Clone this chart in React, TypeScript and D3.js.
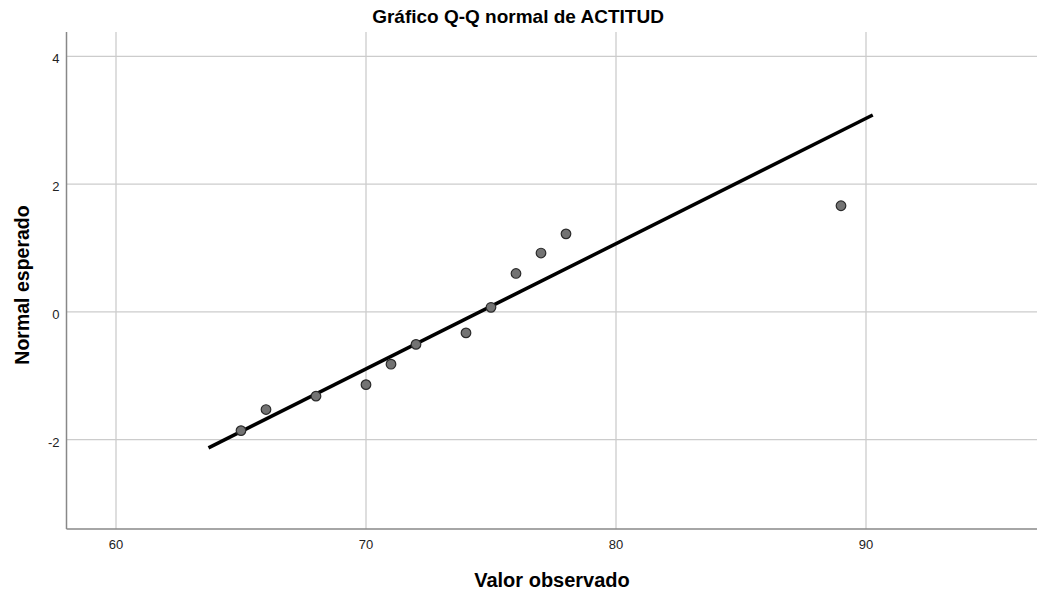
import React, { useEffect, useRef } from "react";
import * as d3 from "d3";

// observed values and expected normal quantiles
const observed = [65, 66, 68, 70, 71, 72, 74, 75, 76, 77, 78, 89];
const expected = [-1.86, -1.53, -1.32, -1.14, -0.82, -0.51, -0.33, 0.07, 0.6, 0.92, 1.22, 1.66];

// reference line endpoints
const lineX = [63.7, 90.27];
const lineY = [-2.13, 3.08];

const xTicks = [60, 70, 80, 90];
const yTicks = [-2, 0, 2, 4];

const W = 1037;
const H = 591;

export default function App() {
  const svgRef = useRef<SVGSVGElement>(null);

  useEffect(() => {
    if (!svgRef.current) return;
    const svg = d3.select(svgRef.current);
    svg.selectAll("*").remove();

    const margin = { top: 32, right: 0, bottom: 62, left: 66.5 };
    const x = d3.scaleLinear().domain([58.02, 96.84]).range([margin.left, W - margin.right]);
    const y = d3.scaleLinear().domain([-3.4, 4.38]).range([H - margin.bottom, margin.top]);
    const font = "'Liberation Sans', Arial, sans-serif";

    // grid
    const grid = svg.append("g");
    grid
      .selectAll("line.v")
      .data(xTicks)
      .enter()
      .append("line")
      .attr("x1", (d) => x(d))
      .attr("x2", (d) => x(d))
      .attr("y1", margin.top)
      .attr("y2", H - margin.bottom)
      .attr("stroke", "#cccccc")
      .attr("stroke-width", 1.3);
    grid
      .selectAll("line.h")
      .data(yTicks)
      .enter()
      .append("line")
      .attr("x1", margin.left)
      .attr("x2", W)
      .attr("y1", (d) => y(d))
      .attr("y2", (d) => y(d))
      .attr("stroke", "#cccccc")
      .attr("stroke-width", 1.3);

    // axes
    svg
      .append("line")
      .attr("x1", margin.left)
      .attr("x2", margin.left)
      .attr("y1", margin.top)
      .attr("y2", H - margin.bottom)
      .attr("stroke", "#888888")
      .attr("stroke-width", 1.5);
    svg
      .append("line")
      .attr("x1", margin.left)
      .attr("x2", W)
      .attr("y1", H - margin.bottom)
      .attr("y2", H - margin.bottom)
      .attr("stroke", "#888888")
      .attr("stroke-width", 1.5);

    svg
      .selectAll("text.xt")
      .data(xTicks)
      .enter()
      .append("text")
      .attr("x", (d) => x(d))
      .attr("y", H - margin.bottom + 20)
      .attr("text-anchor", "middle")
      .style("font-family", font)
      .style("font-size", "13px")
      .style("fill", "#222")
      .text((d) => d);
    svg
      .selectAll("text.yt")
      .data(yTicks)
      .enter()
      .append("text")
      .attr("x", margin.left - 7)
      .attr("y", (d) => y(d) + 7)
      .attr("text-anchor", "end")
      .style("font-family", font)
      .style("font-size", "13px")
      .style("fill", "#222")
      .text((d) => d);

    // reference line
    const line = d3
      .line<number>()
      .x((d) => x(d))
      .y((_, i) => y(lineY[i]));
    svg
      .append("path")
      .attr("d", line(lineX))
      .attr("fill", "none")
      .attr("stroke", "#000")
      .attr("stroke-width", 3.5);

    // points
    svg
      .selectAll("circle")
      .data(observed)
      .enter()
      .append("circle")
      .attr("cx", (d) => x(d))
      .attr("cy", (_, i) => y(expected[i]))
      .attr("r", 4.8)
      .attr("fill", "#737373")
      .attr("stroke", "#2a2a2a")
      .attr("stroke-width", 1.2);

    // titles
    svg
      .append("text")
      .attr("x", 518)
      .attr("y", 23)
      .attr("text-anchor", "middle")
      .style("font-family", font)
      .style("font-size", "19px")
      .style("font-weight", "bold")
      .text("Gráfico Q-Q normal de ACTITUD");
    svg
      .append("text")
      .attr("x", 552)
      .attr("y", 587)
      .attr("text-anchor", "middle")
      .style("font-family", font)
      .style("font-size", "20px")
      .style("font-weight", "bold")
      .text("Valor observado");
    svg
      .append("text")
      .attr("transform", `translate(29,285) rotate(-90)`)
      .attr("text-anchor", "middle")
      .style("font-family", font)
      .style("font-size", "19.5px")
      .style("font-weight", "bold")
      .text("Normal esperado");
  }, []);

  return (
    <div style={{ position: "fixed", left: 0, top: 0, background: "#fff" }}>
      <svg ref={svgRef} width={W} height={H} style={{ display: "block" }}></svg>
    </div>
  );
}
